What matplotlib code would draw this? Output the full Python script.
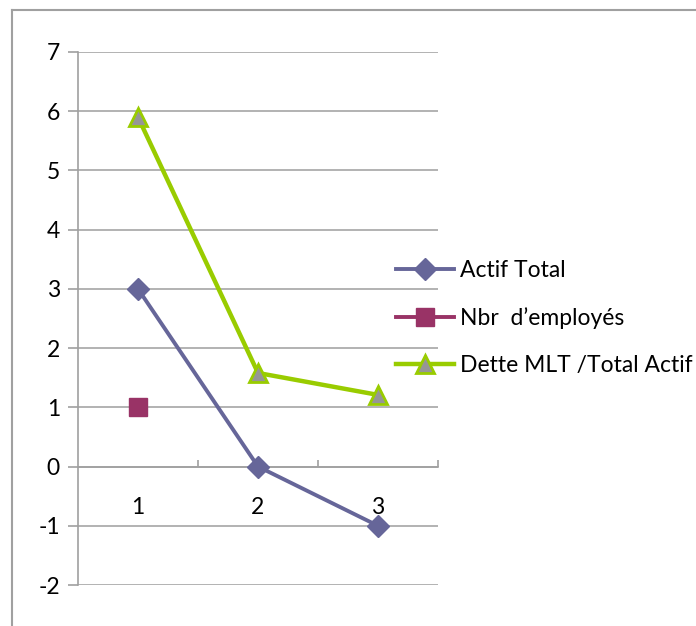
import numpy as np
import matplotlib.pyplot as plt
from matplotlib.lines import Line2D

# données du graphique
categories = [1, 2, 3]
actif_total = [3, 0, -1]
nbr_employes = [1, np.nan, np.nan]
dette_mlt = [5.9, 1.58, 1.21]
y_ticks = list(range(-2, 8))

plt.rcParams['font.family'] = ['Lato', 'DejaVu Sans']

fig = plt.figure(figsize=(6.96, 6.26), dpi=100)
W, H = 696, 626
ax = fig.add_axes([78 / W, 1 - 585 / H, 360 / W, 533 / H])

# bordure extérieure (seulement haut et gauche visibles)
fig.add_artist(Line2D([12 / W, 1], [1 - 10 / H, 1 - 10 / H], color='#a0a0a0', lw=1.5))
fig.add_artist(Line2D([12 / W, 12 / W], [0, 1 - 10 / H], color='#a0a0a0', lw=1.5))

ax.plot(categories, actif_total, color='#666699', lw=2.8, marker='D', ms=11.5,
        mfc='#666699', mec='#666699', label='Actif Total', zorder=3)
ax.plot(categories, nbr_employes, color='#993366', lw=2.8, marker='s', ms=13.5,
        mfc='#993366', mec='#993366', label='Nbr  d\u2019employés', zorder=3)
ax.plot(categories, dette_mlt, color='#99cc00', lw=3.2, marker='^', ms=13,
        mfc='#969696', mec='#99cc00', mew=2, label='Dette MLT /Total Actif', zorder=3)

ax.set_xlim(0.5, 3.5)
ax.set_ylim(-2, 7)
ax.set_yticks(y_ticks)
ax.set_yticklabels([str(v) for v in y_ticks])
ax.yaxis.grid(True, color='#a6a6a6', lw=1.2)
ax.set_axisbelow(True)

ax.set_xticks(categories)
ax.set_xticks([1.5, 2.5, 3.5], minor=True)
ax.tick_params(axis='x', which='major', length=0, pad=22, labelsize=16.5)
ax.tick_params(axis='x', which='minor', direction='in', length=5, color='#a0a0a0', width=1.2)
ax.tick_params(axis='y', length=7, color='#a0a0a0', width=1.2, pad=6, labelsize=16.5)

for s in ['top', 'right']:
    ax.spines[s].set_visible(False)
ax.spines['bottom'].set_position(('data', 0))
ax.spines['bottom'].set_color('#a0a0a0')
ax.spines['left'].set_color('#a0a0a0')
ax.spines['bottom'].set_linewidth(1.2)
ax.spines['left'].set_linewidth(1.2)

fig.legend(loc='center left', bbox_to_anchor=(396 / W, 1 - 318 / H), frameon=False,
           fontsize=16.5, handlelength=2.55, handletextpad=0.25, labelspacing=1.15,
           borderpad=0, borderaxespad=0, numpoints=1)

fig.savefig('out.png', dpi=100)
